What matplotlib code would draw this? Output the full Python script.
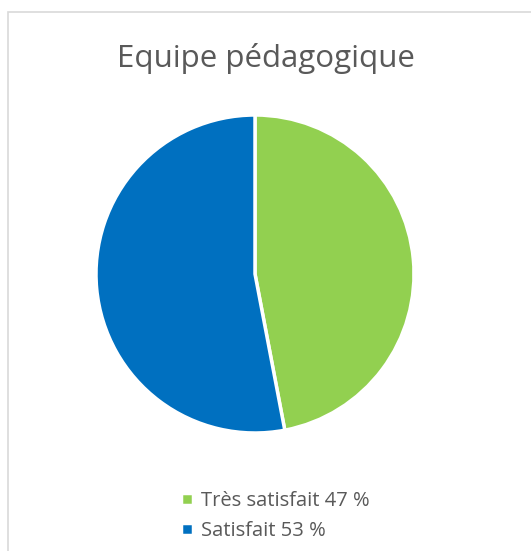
import matplotlib.pyplot as plt
from matplotlib.patches import Rectangle

labels = ["Très satisfait 47 %", "Satisfait 53 %"]
values = [47, 53]
colors = ["#92D050", "#0070C0"]
title = "Equipe pédagogique"

plt.rcParams['font.family'] = ['Open Sans', 'DejaVu Sans']

W, H = 531, 551
fig = plt.figure(figsize=(W / 100, H / 100), dpi=100)

# light grey chart frame (right and bottom run off the image)
fig.patches.append(Rectangle((8 / W, -0.05), 1.0, 1.05 - 12 / H,
                             transform=fig.transFigure, fill=False,
                             edgecolor="#D9D9D9", linewidth=1.2))

cx, cy, r = 255, 274, 159
ax = fig.add_axes([(cx - r) / W, 1 - (cy + r) / H, 2 * r / W, 2 * r / H])
wedges, _ = ax.pie(values, colors=colors, startangle=90, counterclock=False,
                   wedgeprops=dict(edgecolor="white", linewidth=2.5))
ax.set_xlim(-1, 1)
ax.set_ylim(-1, 1)
ax.set_aspect("equal")

fig.text(266 / W, 1 - 58 / H, title, ha="center", va="center",
         fontsize=22.5, color="#595959")

fig.legend(wedges, labels, loc="upper left", bbox_to_anchor=(171 / W, 1 - 481 / H),
           frameon=False, fontsize=14.5, labelcolor="#595959",
           handlelength=0.6, handleheight=0.6, handletextpad=0.4,
           labelspacing=0.5, borderpad=0)

fig.savefig("out.png", dpi=100)
